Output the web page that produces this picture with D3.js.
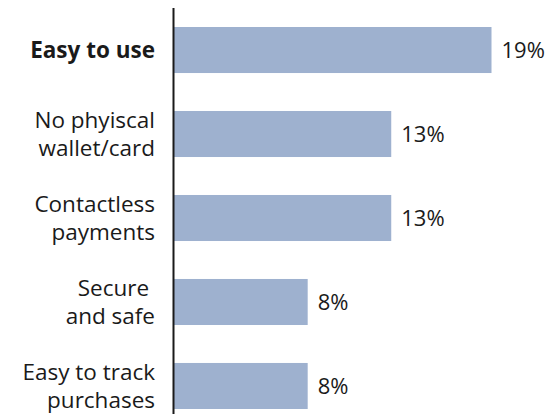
<!DOCTYPE html>
<html>
<head>
<meta charset="utf-8">
<script src="https://cdn.jsdelivr.net/npm/d3@7"></script>
<style>
  html, body { margin: 0; padding: 0; background: #fff; }
  svg text { font-family: "Open Sans", "Noto Sans", sans-serif; fill: #1a1a1a; }
</style>
</head>
<body>
<svg id="chart" width="551" height="414"></svg>
<script>
// Reasons for using mobile payments (share of respondents, %)
const categories = [
  ["Easy to use"],
  ["No phyiscal", "wallet/card"],
  ["Contactless", "payments"],
  ["Secure ", "and safe"],
  ["Easy to track", "purchases"]
];
const values = [19, 13, 13, 8, 8];
const valueLabels = ["19%", "13%", "13%", "8%", "8%"];
const boldIndex = 0;

const svg = d3.select("#chart");
const margin = { top: 8, left: 174 };
const height = 414;

const y = d3.scaleBand()
  .domain(d3.range(values.length))
  .range([27, 409])
  .paddingInner(0.452)
  .paddingOuter(0);

const x = d3.scaleLinear()
  .domain([0, 19])
  .range([margin.left, 491.5]);

// bars
svg.append("g")
  .selectAll("rect")
  .data(values)
  .join("rect")
  .attr("x", x(0))
  .attr("y", (d, i) => y(i))
  .attr("width", d => x(d) - x(0))
  .attr("height", y.bandwidth())
  .attr("fill", "#9eb1cf");

// value labels
svg.append("g")
  .selectAll("text")
  .data(values)
  .join("text")
  .attr("x", d => x(d) + 10)
  .attr("y", (d, i) => y(i) + y.bandwidth() / 2)
  .attr("dy", "0.36em")
  .attr("font-size", 22)
  .text((d, i) => valueLabels[i]);

// category labels, one tspan per line
const lineH = 28.5;
const cat = svg.append("g")
  .selectAll("text")
  .data(categories)
  .join("text")
  .attr("text-anchor", "end")
  .attr("font-size", 22.5)
  .attr("font-weight", (d, i) => i === boldIndex ? "bold" : "normal")
  .attr("transform", (d, i) => `translate(155,${y(i) + y.bandwidth() / 2})`)
  .style("white-space", "pre");

cat.selectAll("tspan")
  .data(d => d.map((t, j) => ({ t, j, n: d.length })))
  .join("tspan")
  .attr("x", 0)
  .attr("y", d => (d.j - (d.n - 1) / 2) * lineH)
  .attr("dy", "0.36em")
  .text(d => d.t);

// vertical axis line
svg.append("line")
  .attr("x1", 173.5).attr("x2", 173.5)
  .attr("y1", margin.top).attr("y2", height)
  .attr("stroke", "#1a1a1a")
  .attr("stroke-width", 2);
</script>
</body>
</html>
